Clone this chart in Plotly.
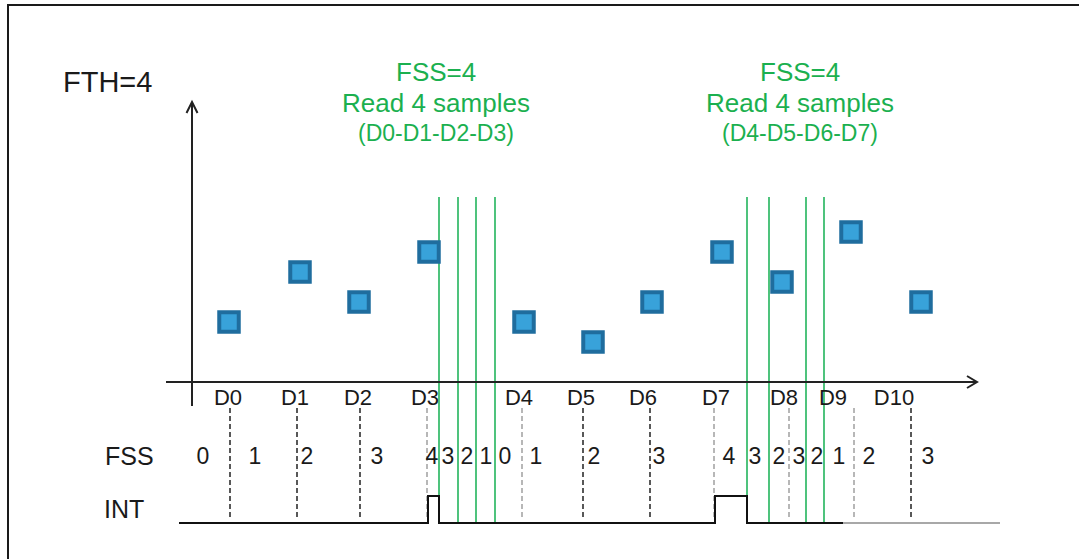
import plotly.graph_objects as go

# ---------------- data ----------------
sample_names = ["D0", "D1", "D2", "D3", "D4", "D5", "D6", "D7", "D8", "D9", "D10"]
sample_t = [3.7, 10.8, 16.7, 23.7, 33.2, 40.1, 46.0, 53.0, 59.0, 65.9, 72.9]
sample_value = [3.0, 5.5, 4.0, 6.5, 3.0, 2.0, 4.0, 6.5, 5.0, 7.5, 4.0]
label_t = [3.6, 10.3, 16.6, 23.3, 32.7, 38.9, 45.1, 52.4, 59.2, 64.1, 70.2]
tick_t = [3.8, 10.5, 16.8, 23.5, 33.0, 39.1, 45.8, 52.2, 59.7, 66.2, 71.9]
tick_faint = [0, 0, 0, 1, 1, 0, 0, 1, 1, 1, 0]

fss_t = [1.1, 6.3, 11.5, 18.5, 24.0, 25.6, 27.5, 29.4, 31.3, 34.4,
         40.2, 46.7, 53.7, 56.3, 58.7, 60.7, 62.5, 64.7, 67.7, 73.6]
fss_value = [0, 1, 2, 3, 4, 3, 2, 1, 0, 1, 2, 3, 4, 3, 2, 3, 2, 1, 2, 3]

read_t = [24.7, 26.6, 28.4, 30.3, 55.5, 57.7, 61.4, 63.2]

int_t = [-1.3, 23.6, 23.6, 24.7, 24.7, 52.3, 52.3, 55.5, 55.5, 65.1]
int_level = [0, 0, 1, 1, 0, 0, 1, 1, 0, 0]
int_tail_t = [65.1, 80.8]

read_titles = [("FSS=4", "Read 4 samples", "(D0-D1-D2-D3)"),
               ("FSS=4", "Read 4 samples", "(D4-D5-D6-D7)")]
read_title_t = [24.35, 60.8]

# ---------------- layout constants ----------------
W, H = 1079, 559
X0_PX, PX_PER_T = 192, 10.0
Y0_PX, PX_PER_V = 382, 20.0
x_range = [-X0_PX / PX_PER_T, (W - X0_PX) / PX_PER_T]
y_range = [-(H - Y0_PX) / PX_PER_V, Y0_PX / PX_PER_V]

FONT = "Liberation Sans, Arial, sans-serif"
TXT = "#1a1a1a"
GREEN = "#1bb04f"
GREEN_LINE = "#22b45c"
TICK_TOP, TICK_BOT = -1.3, -6.8
READ_TOP, READ_BOT = 9.25, -7.05
INT_LOW, INT_HIGH = -7.05, -5.7
LABEL_V, FSS_V = -0.85, -3.8


def segs(xs, y0, y1):
    X, Y = [], []
    for x in xs:
        X += [x, x, None]
        Y += [y0, y1, None]
    return X, Y


fig = go.Figure()

# dashed sample ticks
for faint, col in [(0, "#222222"), (1, "#a0a0a0")]:
    xs = [t for t, f in zip(tick_t, tick_faint) if f == faint]
    X, Y = segs(xs, TICK_TOP, TICK_BOT)
    fig.add_trace(go.Scatter(x=X, y=Y, mode="lines",
                             line=dict(color=col, width=1.5, dash="5px,3px"),
                             hoverinfo="skip", showlegend=False))

# green FIFO read lines
X, Y = segs(read_t, READ_TOP, READ_BOT)
fig.add_trace(go.Scatter(x=X, y=Y, mode="lines",
                         line=dict(color=GREEN_LINE, width=1.6),
                         hoverinfo="skip", showlegend=False))

# INT waveform
int_y = [INT_LOW + l * (INT_HIGH - INT_LOW) for l in int_level]
fig.add_trace(go.Scatter(x=int_t, y=int_y, mode="lines",
                         line=dict(color="#111111", width=2),
                         hoverinfo="skip", showlegend=False))
fig.add_trace(go.Scatter(x=int_tail_t, y=[INT_LOW] * len(int_tail_t), mode="lines",
                         line=dict(color="#a8a8a8", width=2),
                         hoverinfo="skip", showlegend=False))

# samples
fig.add_trace(go.Scatter(x=sample_t, y=sample_value, mode="markers",
                         marker=dict(symbol="square", size=19.5, color="#38a2da",
                                     line=dict(color="#1f6d9e", width=4)),
                         hoverinfo="skip", showlegend=False))

# sample labels
fig.add_trace(go.Scatter(x=label_t, y=[LABEL_V] * len(label_t), mode="text",
                         text=sample_names, textposition="middle center",
                         textfont=dict(family=FONT, size=22, color=TXT),
                         hoverinfo="skip", showlegend=False))

# FSS values
fig.add_trace(go.Scatter(x=fss_t, y=[FSS_V] * len(fss_t), mode="text",
                         text=[str(v) for v in fss_value], textposition="middle center",
                         textfont=dict(family=FONT, size=23, color=TXT),
                         hoverinfo="skip", showlegend=False))

# axes drawn as shapes (with open arrow heads)
AX = dict(color="#222222", width=2)
x_end, y_end = 78.5, 14.0
shapes = [
    dict(type="line", xref="x", yref="y", x0=-2.6, x1=x_end, y0=0, y1=0, line=AX),
    dict(type="path", xref="x", yref="y",
         path=f"M {x_end-1.0} 0.3 L {x_end} 0 L {x_end-1.0} -0.3", line=AX),
    dict(type="line", xref="x", yref="y", x0=0, x1=0, y0=-1.2, y1=y_end, line=AX),
    dict(type="path", xref="x", yref="y",
         path=f"M -0.55 {y_end-0.55} L 0 {y_end} L 0.55 {y_end-0.55}", line=AX),
    # frame (top and left edges visible)
    dict(type="path", xref="paper", yref="paper",
         path=f"M {8/W} -0.05 L {8/W} {1-5/H} L 1.05 {1-5/H}",
         line=dict(color="#1a1a1a", width=2)),
]

annotations = [
    dict(x=-8.5, y=15.0, text="FTH=4", font=dict(family=FONT, size=29, color=TXT)),
    dict(x=-6.3, y=-3.7, text="FSS", font=dict(family=FONT, size=25, color=TXT)),
    dict(x=-6.8, y=-6.35, text="INT", font=dict(family=FONT, size=25, color=TXT)),
]
for t, (l1, l2, l3) in zip(read_title_t, read_titles):
    annotations += [
        dict(x=t, y=15.5, text=l1, font=dict(family=FONT, size=26, color=GREEN)),
        dict(x=t, y=13.95, text=l2, font=dict(family=FONT, size=26, color=GREEN)),
        dict(x=t, y=12.45, text=l3, font=dict(family=FONT, size=23, color=GREEN)),
    ]
for a in annotations:
    a.update(xref="x", yref="y", showarrow=False, xanchor="center", yanchor="middle")

fig.update_layout(
    width=W, height=H, margin=dict(l=0, r=0, t=0, b=0),
    paper_bgcolor="white", plot_bgcolor="white",
    xaxis=dict(range=x_range, showgrid=False, zeroline=False, showticklabels=False,
               showline=False, fixedrange=True),
    yaxis=dict(range=y_range, showgrid=False, zeroline=False, showticklabels=False,
               showline=False, fixedrange=True),
    shapes=shapes, annotations=annotations, showlegend=False,
)

fig.write_html("out.html", config={"displayModeBar": False},
               post_script="document.body.style.margin='0';document.body.style.overflow='hidden';")
